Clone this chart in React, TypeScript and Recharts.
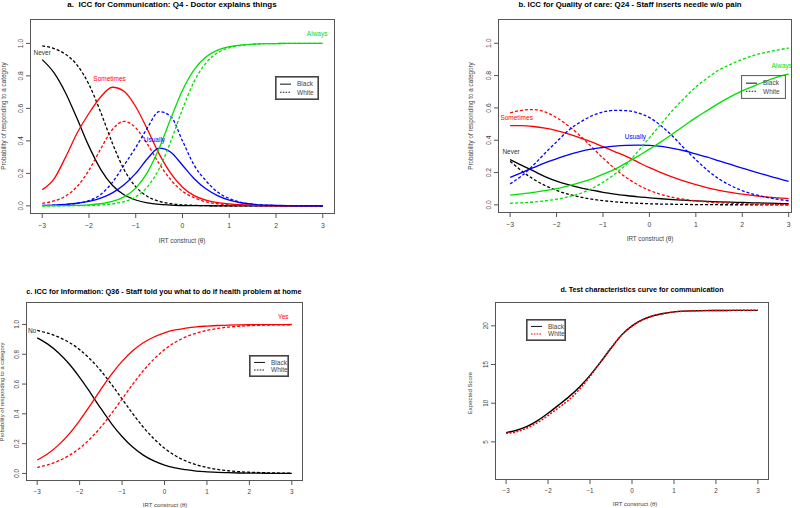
import React from 'react';
import { LineChart, Line, XAxis, YAxis, ReferenceDot } from 'recharts';

// ability grid shared by all panels
const theta = [-3, -2.75, -2.5, -2.25, -2, -1.75, -1.5, -1.25, -1, -0.75, -0.5, -0.25, 0, 0.25, 0.5, 0.75, 1, 1.25, 1.5, 1.75, 2, 2.25, 2.5, 2.75, 3];

// a. Q4 - Doctor explains things
const aNeverB = [0.9, 0.82, 0.695, 0.534, 0.366, 0.225, 0.127, 0.068, 0.036, 0.018, 0.009, 0.005, 0.002, 0.001, 0.001, 0, 0, 0, 0, 0, 0, 0, 0, 0, 0];
const aNeverW = [0.985, 0.968, 0.933, 0.865, 0.747, 0.577, 0.386, 0.224, 0.118, 0.058, 0.028, 0.013, 0.006, 0.003, 0.001, 0, 0, 0, 0, 0, 0, 0, 0, 0, 0];
const aSomeB = [0.1, 0.165, 0.3, 0.45, 0.57, 0.67, 0.73, 0.705, 0.61, 0.47, 0.32, 0.2, 0.115, 0.063, 0.035, 0.02, 0.012, 0.007, 0.004, 0.002, 0.001, 0, 0, 0, 0];
const aSomeW = [0.015, 0.03, 0.06, 0.12, 0.22, 0.35, 0.47, 0.52, 0.48, 0.38, 0.26, 0.16, 0.09, 0.05, 0.025, 0.013, 0.007, 0.003, 0.002, 0.001, 0, 0, 0, 0, 0];
const aUsuB = [0.003, 0.005, 0.009, 0.016, 0.027, 0.047, 0.08, 0.13, 0.2, 0.29, 0.355, 0.33, 0.25, 0.167, 0.105, 0.063, 0.035, 0.019, 0.01, 0.005, 0.003, 0.001, 0, 0, 0];
const aUsuW = [0.002, 0.004, 0.008, 0.016, 0.032, 0.07, 0.145, 0.25, 0.36, 0.48, 0.58, 0.55, 0.4, 0.25, 0.155, 0.085, 0.045, 0.022, 0.01, 0.005, 0.002, 0.001, 0, 0, 0];
const aAlwB = [0, 0.001, 0.001, 0.003, 0.006, 0.013, 0.027, 0.055, 0.109, 0.206, 0.354, 0.537, 0.711, 0.839, 0.917, 0.959, 0.98, 0.99, 0.995, 0.998, 0.999, 1, 1, 1, 1];
const aAlwW = [0, 0, 0.001, 0.001, 0.002, 0.005, 0.012, 0.026, 0.056, 0.117, 0.228, 0.397, 0.595, 0.766, 0.879, 0.942, 0.973, 0.988, 0.995, 0.998, 0.999, 1, 1, 1, 1];

// b. Q24 - Staff inserts needle w/o pain
const bNeverB = [0.28, 0.245, 0.21, 0.175, 0.147, 0.125, 0.107, 0.092, 0.078, 0.067, 0.058, 0.05, 0.044, 0.038, 0.033, 0.029, 0.025, 0.022, 0.019, 0.017, 0.015, 0.013, 0.011, 0.009, 0.008];
const bNeverW = [0.27, 0.21, 0.16, 0.12, 0.09, 0.066, 0.049, 0.036, 0.026, 0.019, 0.014, 0.01, 0.007, 0.005, 0.004, 0.003, 0.002, 0.002, 0.001, 0.001, 0.001, 0.001, 0, 0, 0];
const bSomeB = [0.49, 0.49, 0.485, 0.475, 0.46, 0.44, 0.415, 0.39, 0.36, 0.33, 0.3, 0.265, 0.23, 0.2, 0.172, 0.147, 0.125, 0.106, 0.09, 0.077, 0.066, 0.057, 0.05, 0.044, 0.039];
const bSomeW = [0.57, 0.585, 0.59, 0.575, 0.54, 0.49, 0.43, 0.36, 0.29, 0.225, 0.17, 0.125, 0.09, 0.065, 0.047, 0.034, 0.025, 0.018, 0.013, 0.01, 0.007, 0.005, 0.004, 0.003, 0.002];
const bUsuB = [0.17, 0.2, 0.23, 0.26, 0.285, 0.31, 0.33, 0.345, 0.355, 0.363, 0.368, 0.37, 0.368, 0.362, 0.35, 0.335, 0.315, 0.295, 0.272, 0.25, 0.228, 0.206, 0.185, 0.165, 0.145];
const bUsuW = [0.13, 0.18, 0.245, 0.32, 0.39, 0.46, 0.51, 0.55, 0.575, 0.585, 0.583, 0.57, 0.54, 0.49, 0.425, 0.35, 0.28, 0.215, 0.16, 0.12, 0.088, 0.065, 0.048, 0.035, 0.025];
const bAlwB = [0.06, 0.068, 0.077, 0.088, 0.1, 0.118, 0.138, 0.16, 0.19, 0.22, 0.26, 0.3, 0.345, 0.39, 0.44, 0.49, 0.54, 0.585, 0.63, 0.67, 0.705, 0.735, 0.765, 0.79, 0.81];
const bAlwW = [0.01, 0.013, 0.018, 0.025, 0.035, 0.05, 0.07, 0.1, 0.14, 0.19, 0.25, 0.33, 0.415, 0.5, 0.585, 0.66, 0.73, 0.785, 0.835, 0.87, 0.9, 0.925, 0.943, 0.958, 0.97];

// c. Q36 - Staff told you what to do if health problem at home
const cNoB = [0.91, 0.868, 0.81, 0.736, 0.645, 0.543, 0.436, 0.335, 0.248, 0.177, 0.123, 0.084, 0.056, 0.037, 0.025, 0.016, 0.011, 0.007, 0.005, 0.003, 0.002, 0.0015, 0.001, 0.0006, 0.0004];
const cYesB = [0.09, 0.132, 0.19, 0.264, 0.355, 0.457, 0.564, 0.665, 0.752, 0.823, 0.877, 0.916, 0.944, 0.963, 0.975, 0.984, 0.989, 0.993, 0.995, 0.997, 0.998, 0.9985, 0.999, 0.9994, 0.9996];
const cNoW = [0.96, 0.942, 0.916, 0.88, 0.831, 0.767, 0.689, 0.598, 0.5, 0.402, 0.311, 0.233, 0.169, 0.12, 0.084, 0.058, 0.04, 0.027, 0.018, 0.012, 0.008, 0.0057, 0.0038, 0.0026, 0.0017];
const cYesW = [0.04, 0.058, 0.084, 0.12, 0.169, 0.233, 0.311, 0.402, 0.5, 0.598, 0.689, 0.767, 0.831, 0.88, 0.916, 0.942, 0.96, 0.973, 0.982, 0.988, 0.992, 0.9943, 0.9962, 0.9974, 0.9983];

// d. test characteristic curve
const dScoreB = [6.2, 6.5, 7.0, 7.75, 8.7, 9.75, 10.85, 12.1, 13.6, 15.3, 17.1, 18.8, 20.0, 20.8, 21.3, 21.6, 21.8, 21.9, 21.94, 21.97, 21.98, 21.99, 22, 22, 22];
const dScoreW = [6.1, 6.3, 6.8, 7.5, 8.4, 9.4, 10.45, 11.8, 13.45, 15.3, 17.15, 18.8, 19.95, 20.75, 21.3, 21.6, 21.8, 21.9, 21.94, 21.97, 21.98, 21.99, 22, 22, 22];

const probTicks = [0, 0.2, 0.4, 0.6, 0.8, 1.0];
const scoreTicks = [5, 10, 15, 20];
const xTicks = [-3, -2, -1, 0, 1, 2, 3];

const FONT = '"Liberation Sans", Arial, Helvetica, sans-serif';
const GREEN = '#00e000';
const FRAME = '#555';
const AXIS_W = 30;
const AXIS_H = 30;

type Series = { key: string; vals: number[]; color: string; dash?: string; width?: number };
type Lbl = { x: number; y: number; text: string; color: string };

const rowsOf = (series: Series[]) =>
  theta.map((t, i) => {
    const r: Record<string, number> = { t };
    series.forEach((s) => (r[s.key] = s.vals[i]));
    return r;
  });

const YTick = (props: any) => {
  const { x, y, payload, fmt, size } = props;
  return (
    <text x={x} y={y} transform={`rotate(-90 ${x} ${y})`} textAnchor="middle" fontSize={size} fill="#444" fontFamily={FONT}>
      {fmt(payload.value)}
    </text>
  );
};

const xFmt = (v: number) => (v < 0 ? `\u2212${-v}` : `${v}`);

function Panel(props: {
  left: number; top: number; w: number; h: number;
  xDomain: [number, number]; yDomain: [number, number];
  yTicks: number[]; fmt: (v: number) => string; tickSize: number;
  series: Series[]; labels: Lbl[];
}) {
  const { left, top, w, h, xDomain, yDomain, yTicks, fmt, tickSize, series, labels } = props;
  const rows = rowsOf(series);
  return (
    <>
      <div style={{ position: 'absolute', left: left - AXIS_W, top: top - 1 }}>
        <LineChart width={w + AXIS_W + 1} height={h + AXIS_H + 1} data={rows} margin={{ top: 1, right: 1, bottom: 0, left: 0 }}>
          <XAxis
            dataKey="t" type="number" domain={xDomain} ticks={xTicks} allowDataOverflow
            height={AXIS_H} axisLine={false} tickSize={5} tickMargin={5}
            tickLine={{ stroke: '#555' }} tickFormatter={xFmt}
            tick={{ fontSize: tickSize, fill: '#444', fontFamily: FONT }}
          />
          <YAxis
            type="number" domain={yDomain} ticks={yTicks} allowDataOverflow width={AXIS_W}
            axisLine={false} tickSize={5} tickMargin={3} tickLine={{ stroke: '#555' }}
            tick={<YTick fmt={fmt} size={tickSize} />}
          />
          {series.map((s) => (
            <Line
              key={s.key} dataKey={s.key} type="monotone" stroke={s.color} strokeWidth={s.width ?? 1.3}
              strokeDasharray={s.dash} dot={false} activeDot={false} isAnimationActive={false}
            />
          ))}
          {labels.map((l) => (
            <ReferenceDot
              key={l.text} x={l.x} y={l.y} r={0} ifOverflow="visible" fill="none" stroke="none"
              label={{ value: l.text, position: 'center', fill: l.color, fontSize: 6.5, fontFamily: FONT }}
            />
          ))}
        </LineChart>
      </div>
      {/* plot frame, as R's box() */}
      <svg style={{ position: 'absolute', left: left - 1, top: top - 1, zIndex: 5, pointerEvents: 'none' }} width={w + 2} height={h + 2}>
        <rect x={0.5} y={0.5} width={w + 1} height={h + 1} fill="none" stroke={FRAME} strokeWidth={1} shapeRendering="crispEdges" />
      </svg>
    </>
  );
}

function LegendBox({ left, top, w, h, dashColor, bold }: { left: number; top: number; w: number; h: number; dashColor: string; bold?: boolean }) {
  const sw = bold ? 1.6 : 1.1;
  return (
    <svg style={{ position: 'absolute', left, top, zIndex: 6 }} width={w} height={h}>
      <rect x={sw / 2} y={sw / 2} width={w - sw} height={h - sw} fill="none" stroke={bold ? '#444' : '#666'} strokeWidth={sw} />
      <line x1={5} x2={16} y1={h * 0.34} y2={h * 0.34} stroke="#222" strokeWidth={1.1} />
      <line x1={5} x2={16} y1={h * 0.68} y2={h * 0.68} stroke={dashColor} strokeWidth={1.1} strokeDasharray="1.6 1.2" />
      <text x={22} y={h * 0.34 + 2.3} fontSize={6.5} fill="#444" fontFamily={FONT}>Black</text>
      <text x={22} y={h * 0.68 + 2.3} fontSize={6.5} fill="#444" fontFamily={FONT}>White</text>
    </svg>
  );
}

function Txt({ x, y, children, bold, rot, size }: { x: number; y: number; children: React.ReactNode; bold?: boolean; rot?: boolean; size?: number }) {
  return (
    <div
      style={{
        position: 'absolute', left: x, top: y, whiteSpace: 'pre', fontFamily: FONT,
        fontSize: size ?? 6.3, fontWeight: bold ? 700 : 400, color: bold ? '#000' : '#444', lineHeight: 1,
        transform: `translate(-50%, -50%)${rot ? ' rotate(-90deg)' : ''}`,
      }}
    >
      {children}
    </div>
  );
}

const DASH = '3 2';

export default function App() {
  const probFmt = (v: number) => v.toFixed(1);
  const intFmt = (v: number) => `${v}`;

  const seriesA: Series[] = [
    { key: 'neverB', vals: aNeverB, color: '#000' },
    { key: 'neverW', vals: aNeverW, color: '#000', dash: DASH },
    { key: 'someB', vals: aSomeB, color: '#ff0000' },
    { key: 'someW', vals: aSomeW, color: '#ff0000', dash: DASH },
    { key: 'usuB', vals: aUsuB, color: '#0000ff' },
    { key: 'usuW', vals: aUsuW, color: '#0000ff', dash: DASH },
    { key: 'alwB', vals: aAlwB, color: GREEN },
    { key: 'alwW', vals: aAlwW, color: GREEN, dash: DASH },
  ];
  const seriesB: Series[] = [
    { key: 'neverB', vals: bNeverB, color: '#000' },
    { key: 'neverW', vals: bNeverW, color: '#000', dash: DASH },
    { key: 'someB', vals: bSomeB, color: '#ff0000' },
    { key: 'someW', vals: bSomeW, color: '#ff0000', dash: DASH },
    { key: 'usuB', vals: bUsuB, color: '#0000ff' },
    { key: 'usuW', vals: bUsuW, color: '#0000ff', dash: DASH },
    { key: 'alwB', vals: bAlwB, color: GREEN },
    { key: 'alwW', vals: bAlwW, color: GREEN, dash: DASH },
  ];
  const seriesC: Series[] = [
    { key: 'noB', vals: cNoB, color: '#000' },
    { key: 'noW', vals: cNoW, color: '#000', dash: DASH },
    { key: 'yesB', vals: cYesB, color: '#ff0000' },
    { key: 'yesW', vals: cYesW, color: '#ff0000', dash: DASH },
  ];
  const seriesD: Series[] = [
    { key: 'scoreB', vals: dScoreB, color: '#000', width: 1.4 },
    { key: 'scoreW', vals: dScoreW, color: '#ff0000', dash: '2 1.5', width: 1.5 },
  ];

  const xLabel = 'IRT construct (\u03b8)';
  const yLabel = 'Probability of responding to a category';

  return (
    <div style={{ position: 'absolute', left: 0, top: 0, width: 800, height: 508, background: '#fff', overflow: 'hidden' }}>
      <Panel
        left={31} top={20} w={303} h={193} xDomain={[-3.24, 3.24]} yDomain={[-0.044, 1.144]}
        yTicks={probTicks} fmt={probFmt} tickSize={6.8} series={seriesA}
        labels={[
          { x: -3, y: 0.945, text: 'Never', color: '#333' },
          { x: -1.56, y: 0.78, text: 'Sometimes', color: '#ff0000' },
          { x: -0.6, y: 0.41, text: 'Usually', color: '#0000ff' },
          { x: 2.88, y: 1.057, text: 'Always', color: GREEN },
        ]}
      />
      <Panel
        left={499} top={20} w={292} h={192} xDomain={[-3.24, 3.05]} yDomain={[-0.044, 1.144]}
        yTicks={probTicks} fmt={probFmt} tickSize={6.8} series={seriesB}
        labels={[
          { x: -2.86, y: 0.54, text: 'Sometimes', color: '#ff0000' },
          { x: -0.3, y: 0.425, text: 'Usually', color: '#0000ff' },
          { x: -2.98, y: 0.327, text: 'Never', color: '#333' },
          { x: 2.85, y: 0.86, text: 'Always', color: GREEN },
        ]}
      />
      <Panel
        left={27} top={303} w={275} h={177} xDomain={[-3.24, 3.24]} yDomain={[-0.044, 1.144]}
        yTicks={probTicks} fmt={probFmt} tickSize={6.3} series={seriesC}
        labels={[
          { x: -3.12, y: 0.96, text: 'No', color: '#333' },
          { x: 2.8, y: 1.05, text: 'Yes', color: '#ff0000' },
        ]}
      />
      <Panel
        left={496} top={303} w={272} h={176} xDomain={[-3.24, 3.24]} yDomain={[0.2, 22.95]}
        yTicks={scoreTicks} fmt={intFmt} tickSize={6.3} series={seriesD} labels={[]}
      />

      <LegendBox left={275} top={76} w={44} h={24} dashColor="#222" bold />
      <LegendBox left={741} top={75} w={45} h={24} dashColor="#222" />
      <LegendBox left={249} top={355} w={40} h={22} dashColor="#222" bold />
      <LegendBox left={526} top={319} w={40} h={22} dashColor="#ff0000" bold />

      <Txt x={172} y={4.5} bold size={8}>a.  ICC for Communication: Q4 - Doctor explains things</Txt>
      <Txt x={630} y={5} bold size={7.8}>b. ICC for Quality of care: Q24 - Staff inserts needle w/o pain</Txt>
      <Txt x={164} y={291.7} bold size={7.3}>c. ICC for Information: Q36 - Staff told you what to do if health problem at home</Txt>
      <Txt x={642} y={289.5} bold size={7.2}>d. Test characteristics curve for communication</Txt>

      <Txt x={3.5} y={116} rot size={6.3}>{yLabel}</Txt>
      <Txt x={471} y={116} rot size={6.3}>{yLabel}</Txt>
      <Txt x={3} y={392} rot size={5.8}>{yLabel}</Txt>
      <Txt x={470} y={393} rot size={6}>Expected Score</Txt>

      <Txt x={182} y={240.7}>{xLabel}</Txt>
      <Txt x={650} y={239.3}>{xLabel}</Txt>
      <Txt x={165} y={505} size={6}>{xLabel}</Txt>
      <Txt x={635} y={504.3} size={6}>{xLabel}</Txt>
    </div>
  );
}
